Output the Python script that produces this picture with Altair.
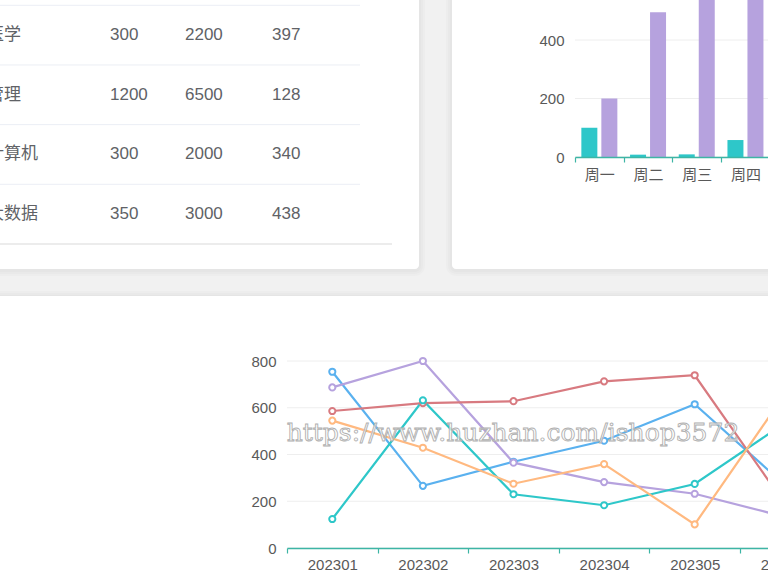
import altair as alt
import pandas as pd

# ---------------- data ----------------
majors = ["医学", "管理", "计算机", "大数据"]
col_a = [300, 1200, 300, 350]
col_b = [2200, 6500, 2000, 3000]
col_c = [397, 128, 340, 438]

days = ["周一", "周二", "周三", "周四"]
bar_s1 = [100, 8, 9, 58]
bar_s2 = [200, 495, 620, 680]

months = ["202301", "202302", "202303", "202304", "202305", "202306"]
line_blue = [754, 266, 369, 459, 615, 268]
line_purple = [687, 800, 365, 282, 232, 133]
line_red = [586, 620, 628, 713, 739, 186]
line_teal = [124, 632, 230, 183, 274, 536]
line_orange = [545, 429, 275, 359, 101, 661]
series_names = ["s_blue", "s_purple", "s_red", "s_teal", "s_orange"]

y_ticks = [0, 200, 400, 600, 800]
watermark = "https://www.huzhan.com/ishop3572"

# ---------------- style ----------------
FONT = "Liberation Sans, Noto Sans CJK SC, sans-serif"
CJK = "Noto Sans CJK SC"
TXT = "#606266"
LBL = "#595959"
AXC = "#3db5a5"
GRID = "#eeeeee"
TEAL, PURPLE, BLUE, ORANGE, RED = "#2ec7c9", "#b6a2de", "#5ab1ef", "#ffb980", "#d87a80"

one = alt.Data(values=[{}])


def box(x1, x2, y1, y2, color, opacity=1.0, r=4):
    return alt.Chart(one).mark_rect(color=color, opacity=opacity, cornerRadius=r).encode(
        x=alt.value(x1), x2=alt.value(x2), y=alt.value(y1), y2=alt.value(y2))


def card(x1, x2, y1, y2):
    layers = []
    for d in (6, 4, 2):
        layers.append(box(x1 - d, x2 + d, y1 - d + 1, y2 + d + 1, "#000000", 0.014, 4 + d))
    layers.append(box(x1, x2, y1, y2, "#ffffff", 1.0, 4))
    return layers


cards = alt.layer(*(card(-20, 419, -20, 269) + card(452, 800, -20, 269) + card(-20, 800, 296, 620)))

# ---------------- table ----------------
table_df = pd.DataFrame({
    "major": majors,
    "a": [str(v) for v in col_a],
    "b": [str(v) for v in col_b],
    "c": [str(v) for v in col_c],
})
ty = alt.Y("major:N", scale=alt.Scale(type="point", domain=majors, range=[35, 214], padding=0), axis=None)
tb = alt.Chart(table_df)
row_lines = tb.mark_rule(color="#ebeef5", strokeWidth=1, yOffset=-29.7).encode(
    y=ty, x=alt.value(0), x2=alt.value(360))
bottom_line = tb.transform_filter(alt.datum.major == majors[-1]).mark_rule(
    color="#e6e6e6", strokeWidth=1.5, yOffset=30).encode(y=ty, x=alt.value(0), x2=alt.value(392))


def col_text(field, xpos, font):
    return tb.mark_text(align="left", baseline="middle", font=font, fontSize=17, color=TXT).encode(
        y=ty, x=alt.value(xpos), text=f"{field}:N")


table = alt.layer(row_lines, bottom_line,
                  col_text("major", -13, CJK), col_text("a", 110, FONT),
                  col_text("b", 185, FONT), col_text("c", 272, FONT))

# ---------------- bar chart ----------------
bar_df = pd.DataFrame({
    "day": days * 2,
    "series": ["s1"] * len(days) + ["s2"] * len(days),
    "value": bar_s1 + bar_s2,
})
bar_grid_df = pd.DataFrame({"value": y_ticks})
BAR_STEP = 48.7
bx = alt.X("day:N", title=None,
           scale=alt.Scale(type="band", domain=days, range=[575, 575 + BAR_STEP * len(days)],
                           paddingInner=0, paddingOuter=0),
           axis=alt.Axis(orient="bottom", offset=-425, zindex=1, tickBand="extent",
                         domainColor=AXC, tickColor=AXC, tickSize=5, domainWidth=1.5, tickWidth=1.2,
                         labelFont=CJK, labelFontSize=15, labelColor=LBL, labelPadding=5,
                         labelAngle=0, grid=False))
by = alt.Y("value:Q", title=None,
           scale=alt.Scale(domain=[0, 800], range=[157, 157 - 0.2925 * 800], nice=False),
           axis=alt.Axis(orient="left", offset=-575, zindex=1, values=y_ticks, domain=False,
                         ticks=False, tickSize=0, grid=False, labelFont=FONT, labelFontSize=15,
                         labelColor=LBL, labelPadding=11))
bar_grid = alt.Chart(bar_grid_df).mark_rule(color=GRID, strokeWidth=1).encode(
    y=by, x=alt.value(575), x2=alt.value(770))
bars = alt.Chart(bar_df).mark_bar().encode(
    x=bx, y=by,
    xOffset=alt.XOffset("series:N", scale=alt.Scale(domain=["s1", "s2"], paddingInner=0.2, paddingOuter=0.3175)),
    color=alt.Color("series:N", scale=alt.Scale(domain=["s1", "s2"], range=[TEAL, PURPLE]), legend=None),
)
bar_chart = alt.layer(bar_grid, bars)

# ---------------- line chart ----------------
line_df = pd.DataFrame({
    "month": months * 5,
    "series": sum([[s] * len(months) for s in series_names], []),
    "value": line_blue + line_purple + line_red + line_teal + line_orange,
})
line_grid_df = pd.DataFrame({"value": y_ticks})
LINE_STEP = 90.6
lx = alt.X("month:N", title=None,
           scale=alt.Scale(type="band", domain=months, range=[287, 287 + LINE_STEP * len(months)],
                           paddingInner=0, paddingOuter=0),
           axis=alt.Axis(orient="bottom", offset=-34, zindex=1, tickBand="extent",
                         domainColor=AXC, tickColor=AXC, tickSize=5, domainWidth=1.5, tickWidth=1.2,
                         labelFont=FONT, labelFontSize=15, labelColor=LBL, labelPadding=4,
                         labelAngle=0, grid=False))
ly = alt.Y("value:Q", title=None,
           scale=alt.Scale(domain=[0, 800], range=[548, 361], nice=False),
           axis=alt.Axis(orient="left", offset=-287, zindex=1, values=y_ticks, domain=False,
                         ticks=False, tickSize=0, grid=False, labelFont=FONT, labelFontSize=15,
                         labelColor=LBL, labelPadding=11))
series_colors = [BLUE, PURPLE, RED, TEAL, ORANGE]
line_grid = alt.Chart(line_grid_df).mark_rule(color=GRID, strokeWidth=1).encode(
    y=ly, x=alt.value(287), x2=alt.value(770))
lines = alt.Chart(line_df).mark_line(strokeWidth=2.2).encode(
    x=lx, y=ly,
    color=alt.Color("series:N", scale=alt.Scale(domain=series_names, range=series_colors), legend=None),
)
points = alt.Chart(line_df).mark_point(shape="circle", filled=False, fill="white", fillOpacity=1,
                                       opacity=1, size=38, strokeWidth=2).encode(
    x=lx, y=ly,
    stroke=alt.Stroke("series:N", scale=alt.Scale(domain=series_names, range=series_colors), legend=None),
)
line_chart = alt.layer(line_grid, lines, points)

# ---------------- watermark ----------------
wm = alt.Chart(alt.Data(values=[{"t": watermark}])).mark_text(
    font="DejaVu Serif", fontSize=25, fill="#ffffff", fillOpacity=0.7, stroke="#b0b0b0",
    strokeWidth=0.9, align="center", baseline="middle").encode(
    x=alt.value(513), y=alt.value(433), text="t:N")

chart = alt.layer(cards, table, bar_chart, line_chart, wm).resolve_scale(
    x="independent", y="independent", color="independent", stroke="independent"
).properties(
    width=768, height=582, autosize="none", padding=0, background="#f1f1f1"
).configure_view(stroke=None)

chart.save("out.html", embed_options={"renderer": "svg", "actions": False})
